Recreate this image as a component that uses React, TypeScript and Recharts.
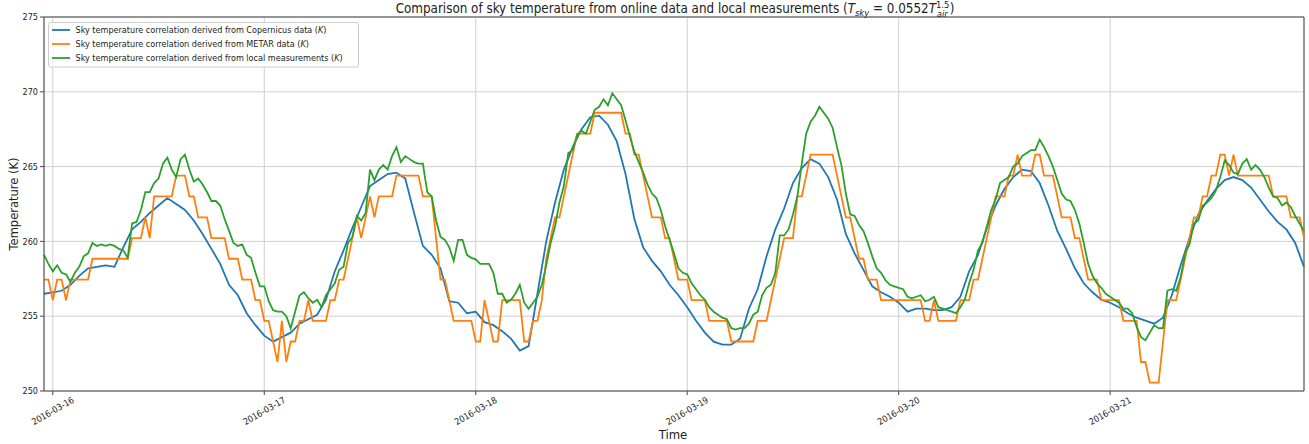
import { LineChart, Line, XAxis, YAxis, CartesianGrid, ReferenceLine } from 'recharts'

// time axis in hours from 2016-03-16 00:00; series start at 2016-03-15 23:00
const START_HOUR = -1
const dayTicks = [0, 24, 48, 72, 96, 120]
const dayLabels = ['2016-03-16', '2016-03-17', '2016-03-18', '2016-03-19', '2016-03-20', '2016-03-21']
const tempTicks = [250, 255, 260, 265, 270, 275]

// Copernicus, hourly (K)
const copernicus = [
  256.5, 256.6, 256.7, 257.1, 257.7, 258.2, 258.3, 258.4, 258.3, 259.6, 260.8, 261.3,
  261.9, 262.4, 262.9, 262.5, 262.1, 261.4, 260.5, 259.5, 258.5, 257.1, 256.4, 255.2,
  254.4, 253.7, 253.3, 253.6, 253.9, 254.5, 254.8, 255.1, 256.1, 258.0, 259.4, 260.9,
  262.3, 263.7, 264.1, 264.5, 264.6, 264.2, 261.9, 259.7, 259.1, 258.2, 256.0, 255.9,
  255.2, 255.3, 254.6, 254.4, 254.0, 253.5, 252.7, 253.0, 256.5, 260.0, 262.6, 264.8,
  266.3, 267.5, 268.3, 268.4, 267.8, 266.7, 264.5, 261.5, 259.6, 258.7, 258.0, 257.1,
  256.4, 255.6, 254.7, 253.9, 253.3, 253.1, 253.1, 253.5, 255.5, 256.8, 259.0, 260.8,
  262.2, 263.9, 264.9, 265.5, 265.2, 264.3, 262.8, 260.5, 259.2, 258.1, 257.0, 256.6,
  256.3, 255.9, 255.3, 255.5, 255.5, 255.4, 255.4, 255.6, 256.3, 258.0, 259.1, 260.9,
  262.4, 263.5, 264.3, 264.8, 264.7, 263.9, 262.4, 260.7, 259.5, 258.2, 257.2, 256.6,
  256.1, 255.9, 255.6, 255.2, 254.9, 254.7, 254.5, 254.9, 256.4, 258.4, 260.2, 261.8,
  262.7, 263.5, 264.1, 264.3, 264.1, 263.6, 262.8, 262.0, 261.3, 260.8, 259.9, 258.3,
]

// METAR, half-hourly (K)
const metar = [
  257.45, 257.45, 256.07, 257.45, 257.45, 256.07, 257.45, 257.45, 257.45, 257.45, 257.45, 258.84,
  258.84, 258.84, 258.84, 258.84, 258.84, 258.84, 258.84, 258.84, 260.22, 260.22, 260.22, 261.61,
  260.22, 263.01, 263.01, 263.01, 263.01, 263.01, 264.40, 264.40, 264.40, 263.01, 263.01, 261.61,
  261.61, 261.61, 260.22, 260.22, 260.22, 260.22, 258.84, 258.84, 258.84, 257.45, 257.45, 257.45,
  256.07, 256.07, 254.69, 254.69, 253.31, 251.94, 254.69, 251.94, 253.31, 253.31, 254.69, 254.69,
  256.07, 254.69, 254.69, 254.69, 254.69, 256.07, 256.07, 257.45, 257.45, 258.84, 260.22, 261.61,
  260.22, 261.61, 263.01, 261.61, 263.01, 263.01, 263.01, 263.01, 264.40, 264.40, 264.40, 264.40,
  264.40, 264.40, 263.01, 263.01, 263.01, 260.22, 257.45, 257.45, 256.07, 254.69, 254.69, 254.69,
  254.69, 254.69, 253.31, 253.31, 256.07, 254.69, 253.31, 253.31, 256.07, 256.07, 256.07, 256.07,
  256.07, 253.31, 253.31, 254.69, 254.69, 256.07, 258.84, 260.22, 261.61, 261.61, 263.01, 264.40,
  265.80, 267.20, 267.20, 267.20, 267.20, 268.60, 268.60, 268.60, 268.60, 268.60, 268.60, 268.60,
  267.20, 267.20, 265.80, 265.80, 264.40, 263.01, 261.61, 261.61, 261.61, 260.22, 260.22, 258.84,
  257.45, 257.45, 257.45, 256.07, 256.07, 256.07, 256.07, 254.69, 254.69, 254.69, 254.69, 254.69,
  253.31, 253.31, 253.31, 253.31, 253.31, 253.31, 254.69, 254.69, 254.69, 256.07, 257.45, 258.84,
  260.22, 260.22, 260.22, 263.01, 263.01, 264.40, 265.80, 265.80, 265.80, 265.80, 265.80, 265.80,
  264.40, 263.01, 261.61, 261.61, 260.22, 258.84, 258.84, 257.45, 257.45, 257.45, 256.07, 256.07,
  256.07, 256.07, 256.07, 256.07, 256.07, 256.07, 256.07, 256.07, 254.69, 254.69, 256.07, 254.69,
  254.69, 254.69, 254.69, 254.69, 256.07, 256.07, 256.07, 257.45, 257.45, 258.84, 260.22, 261.61,
  263.01, 263.01, 263.01, 264.40, 264.40, 265.80, 264.40, 264.40, 264.40, 265.80, 265.80, 264.40,
  264.40, 264.40, 263.01, 261.61, 261.61, 261.61, 260.22, 260.22, 258.84, 257.45, 257.45, 257.45,
  256.07, 256.07, 256.07, 256.07, 256.07, 254.69, 254.69, 254.69, 254.69, 251.94, 251.94, 250.56,
  250.56, 250.56, 253.31, 256.07, 256.07, 256.07, 257.45, 258.84, 260.22, 261.61, 261.61, 263.01,
  263.01, 264.40, 264.40, 265.80, 265.80, 264.40, 265.80, 264.40, 264.40, 264.40, 264.40, 264.40,
  264.40, 264.40, 264.40, 263.01, 263.01, 263.01, 263.01, 261.61, 261.61, 261.61, 260.22,
]

// local measurements, half-hourly (K)
const local = [
  259.1, 258.5, 258.0, 258.4, 257.9, 257.8, 257.3, 257.9, 258.3, 259.0, 259.2, 259.9,
  259.7, 259.8, 259.7, 259.8, 259.7, 259.5, 259.4, 258.9, 261.2, 261.3, 262.1, 263.3,
  263.3, 263.9, 264.2, 265.2, 265.6, 264.8, 264.3, 265.5, 265.8, 264.8, 264.0, 264.2,
  263.8, 263.3, 262.7, 262.7, 262.4, 261.5, 260.7, 259.9, 259.7, 259.8, 259.1, 258.9,
  257.9, 257.0, 257.0, 256.0, 255.4, 255.3, 255.3, 255.0, 254.2, 255.3, 256.4, 256.6,
  256.2, 255.9, 256.1, 255.6, 256.4, 256.8, 257.2, 258.1, 258.3, 259.9, 260.3, 261.7,
  261.4, 261.9, 264.8, 264.1, 264.8, 265.1, 264.8, 265.7, 266.3, 265.3, 265.7, 265.5,
  265.3, 265.2, 265.2, 263.3, 263.0, 261.4, 260.3, 260.1, 259.6, 258.7, 260.1, 260.1,
  259.1, 258.9, 258.8, 258.5, 258.5, 258.5, 257.9, 256.5, 256.5, 255.9, 256.1, 256.5,
  257.1, 255.9, 255.5, 255.9, 256.3, 257.1, 258.4, 259.9, 261.0, 262.6, 263.7, 265.9,
  266.1, 267.1, 267.4, 267.2, 268.0, 268.8, 269.0, 269.5, 269.1, 269.9, 269.5, 269.1,
  268.1, 267.0, 266.0, 265.3, 264.6, 263.8, 263.2, 262.9, 262.1, 261.0, 260.1, 259.2,
  258.2, 257.9, 257.8, 257.2, 256.8, 256.4, 256.1, 255.6, 255.3, 255.1, 254.9, 254.8,
  254.2, 254.1, 254.2, 254.2, 254.5, 255.1, 255.3, 256.4, 256.9, 257.1, 257.9, 260.4,
  260.4, 260.8, 261.8, 263.0, 265.2, 267.2, 268.0, 268.4, 269.0, 268.6, 268.2, 267.6,
  266.3, 265.1, 263.2, 261.8, 261.7, 261.1, 260.7, 259.9, 259.0, 258.2, 257.9, 257.4,
  257.1, 257.0, 256.9, 256.8, 256.3, 256.2, 256.3, 256.4, 256.0, 256.1, 256.3, 255.6,
  255.5, 255.4, 255.3, 255.2, 255.6, 256.1, 257.2, 258.1, 259.4, 259.9, 261.0, 262.1,
  262.8, 263.9, 264.1, 264.3, 265.0, 265.2, 265.7, 265.9, 266.1, 266.1, 266.8, 266.3,
  265.7, 265.0, 264.1, 263.2, 262.8, 262.7, 262.1, 261.2, 259.9, 258.5, 257.7, 257.2,
  256.9, 256.5, 256.3, 256.1, 255.9, 255.5, 255.5, 255.2, 254.3, 253.6, 253.4, 253.9,
  254.4, 254.2, 254.2, 256.7, 256.8, 256.7, 257.6, 259.2, 259.8, 261.2, 261.4, 262.4,
  262.6, 262.9, 263.4, 264.3, 265.4, 265.1, 264.6, 264.5, 265.2, 265.5, 264.8, 265.1,
  264.8, 264.3, 263.6, 263.0, 262.9, 262.4, 262.6, 262.3, 261.7, 261.2, 260.7,
]

const data = metar.map((m, i) => ({
  h: START_HOUR + i * 0.5,
  copernicus: i % 2 === 0 ? copernicus[i / 2] : null,
  metar: m,
  local: local[i],
}))

const series = [
  { key: 'copernicus', color: '#1f77b4', label: 'Sky temperature correlation derived from Copernicus data' },
  { key: 'metar', color: '#ff7f0e', label: 'Sky temperature correlation derived from METAR data' },
  { key: 'local', color: '#2ca02c', label: 'Sky temperature correlation derived from local measurements' },
]

const W = 1309
const H = 444
const COND = "'DejaVu Sans Condensed', 'DejaVu Sans', sans-serif"
const condStyle = { fontFamily: COND, fontStretch: 'condensed' as const }
const INK = '#222'
const SPINE = '#444'

function DayTick({ x, y, payload }: { x: number; y: number; payload: { value: number } }) {
  const label = dayLabels[dayTicks.indexOf(payload.value)]
  const cy = y + 14
  return (
    <text
      x={x}
      y={cy}
      textAnchor="middle"
      dominantBaseline="central"
      transform={`rotate(-30 ${x} ${cy})`}
      fontSize={9}
      fill={INK}
      style={condStyle}
    >
      {label}
    </text>
  )
}

function Overlay() {
  return (
    <svg width={W} height={H} style={{ position: 'absolute', left: 0, top: 0, pointerEvents: 'none' }}>
      <text x={675} y={13} textAnchor="middle" fontSize={13.3} fill={INK} style={condStyle}>
        Comparison of sky temperature from online data and local measurements (
        <tspan fontStyle="italic">T</tspan>
        <tspan fontSize={9.3} dy={3} fontStyle="italic">sky</tspan>
        <tspan dy={-3}> = 0.0552</tspan>
        <tspan fontStyle="italic">T</tspan>
        <tspan fontSize={9.3} dy={-5}>1.5</tspan>
        <tspan fontSize={9.3} dx={-12.5} dy={9} fontStyle="italic">air</tspan>
        <tspan dx={2} dy={-4}>)</tspan>
      </text>
      <text
        x={14}
        y={204}
        textAnchor="middle"
        dominantBaseline="central"
        transform="rotate(-90 14 204)"
        fontSize={11.5}
        fill={INK}
        style={{ fontFamily: "'DejaVu Sans', sans-serif" }}
      >
        Temperature (K)
      </text>
      <text x={673} y={439} textAnchor="middle" fontSize={13} fill={INK} style={condStyle}>
        Time
      </text>
      <rect x={48.5} y={22.5} width={310} height={44.5} rx={2} fill="#fff" fillOpacity={0.8} stroke="#cccccc" />
      {series.map((s, i) => (
        <g key={s.key}>
          <line x1={52} x2={70} y1={30 + i * 14} y2={30 + i * 14} stroke={s.color} strokeWidth={1.8} />
          <text x={75.5} y={33.2 + i * 14} fontSize={9} fill={INK} style={condStyle}>
            {s.label} (<tspan fontStyle="italic">K</tspan>)
          </text>
        </g>
      ))}
    </svg>
  )
}

export default function App() {
  return (
    <div style={{ position: 'absolute', left: 0, top: 0, width: W, height: H, background: '#fff' }}>
      <LineChart width={W} height={H} data={data} margin={{ top: 17, right: 5, left: 0, bottom: 0 }}>
        <CartesianGrid stroke="#cfcfcf" strokeWidth={1} />
        <XAxis
          dataKey="h"
          type="number"
          domain={[-1, 142]}
          ticks={dayTicks}
          tick={DayTick}
          height={53}
          stroke={SPINE}
          tickSize={4}
          tickMargin={2}
        />
        <YAxis
          type="number"
          domain={[250, 275]}
          ticks={tempTicks}
          width={44}
          stroke={SPINE}
          tickSize={4}
          tickMargin={2}
          tick={{ fontSize: 9, fill: INK, ...condStyle }}
        />
        <ReferenceLine y={275} stroke={SPINE} />
        <ReferenceLine x={142} stroke={SPINE} />
        {series.map(s => (
          <Line
            key={s.key}
            type="linear"
            dataKey={s.key}
            stroke={s.color}
            strokeWidth={1.8}
            dot={false}
            activeDot={false}
            connectNulls
            isAnimationActive={false}
          />
        ))}
      </LineChart>
      <Overlay />
    </div>
  )
}
